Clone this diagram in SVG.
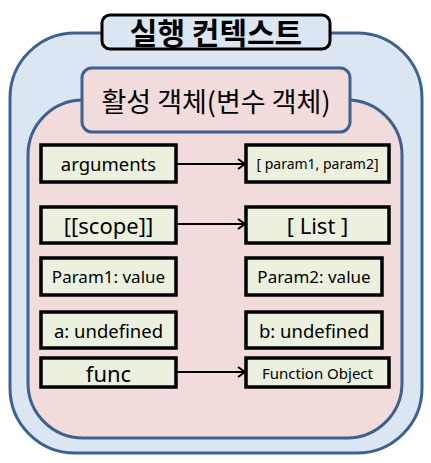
<svg xmlns="http://www.w3.org/2000/svg" width="431" height="463" viewBox="0 0 431 463">
<defs>
<style>
.cont{stroke:#3d6190;stroke-width:3}
.node{fill:#ebf1de;stroke:#000;stroke-width:3.5}
.t{font-family:"Noto Sans","Noto Sans CJK KR",sans-serif;fill:#000;text-anchor:middle;dominant-baseline:central}
.k{font-family:"Noto Sans CJK KR","Noto Sans",sans-serif;fill:#000;text-anchor:middle;dominant-baseline:central}
.edge{stroke:#000;stroke-width:2;fill:none}
</style>
<marker id="arr" markerWidth="12" markerHeight="12" refX="9" refY="6" orient="auto" markerUnits="userSpaceOnUse">
<path d="M2,1 L9,6 L2,11" fill="none" stroke="#000" stroke-width="2"/>
</marker>
</defs>
<g id="execution-context">
<rect class="cont" x="10" y="33" width="412" height="420" rx="65" fill="#dce6f2"/>
<rect x="102" y="15" width="228" height="34" rx="8" fill="#dce6f2" stroke="#000" stroke-width="3"/>
<text class="k" x="216" y="31" font-size="30" font-weight="bold">실행 컨텍스트</text>
</g>
<g id="activation-object">
<rect class="cont" x="28" y="100" width="374" height="338" rx="55" fill="#f2dcdb"/>
<rect class="cont" x="82" y="68" width="268" height="64" rx="10" fill="#f2dcdb"/>
<text class="k" x="216" y="100" font-size="27">활성 객체(변수 객체)</text>
</g>
<g id="n-arguments"><rect class="node" x="41" y="145" width="135" height="37"/><text class="t" x="108.5" y="163.5" font-size="18.5">arguments</text></g>
<g id="n-params"><rect class="node" x="246" y="145" width="143" height="37"/><text class="t" x="317.5" y="163.5" font-size="14">[ param1, param2]</text></g>
<g id="n-scope"><rect class="node" x="41" y="207" width="135" height="36"/><text class="t" x="108.5" y="225" font-size="22">[[scope]]</text></g>
<g id="n-list"><rect class="node" x="246" y="207" width="143" height="36"/><text class="t" x="317.5" y="225" font-size="22">[ List ]</text></g>
<g id="n-param1"><rect class="node" x="41" y="258" width="135" height="37"/><text class="t" x="108.5" y="276.5" font-size="17">Param1: value</text></g>
<g id="n-param2"><rect class="node" x="246" y="258" width="136" height="37"/><text class="t" x="314" y="276.5" font-size="17">Param2: value</text></g>
<g id="n-a"><rect class="node" x="41" y="312" width="135" height="36"/><text class="t" x="108.5" y="330" font-size="18.5">a: undefined</text></g>
<g id="n-b"><rect class="node" x="246" y="312" width="136" height="36"/><text class="t" x="314" y="330" font-size="18.5">b: undefined</text></g>
<g id="n-func"><rect class="node" x="41" y="358" width="135" height="29"/><text class="t" x="108.5" y="372.5" font-size="22">func</text></g>
<g id="n-funcobj"><rect class="node" x="246" y="358" width="143" height="29"/><text class="t" x="317.5" y="372.5" font-size="15">Function Object</text></g>
<g id="connectors">
<line class="edge" x1="176" y1="164" x2="245" y2="164" marker-end="url(#arr)"/>
<line class="edge" x1="176" y1="224" x2="245" y2="224" marker-end="url(#arr)"/>
<line class="edge" x1="176" y1="372" x2="245" y2="372" marker-end="url(#arr)"/>
</g>
</svg>
